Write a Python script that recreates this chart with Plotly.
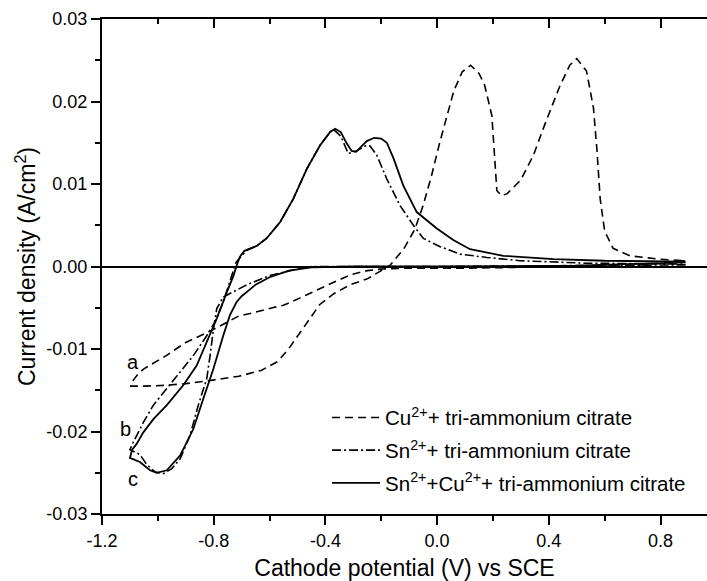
import plotly.graph_objects as go

# ---- data ----
cu_v = [-1.10, -1.05, -0.97, -0.90, -0.81, -0.71, -0.63, -0.57, -0.53, -0.49, -0.45, -0.42,
        -0.37, -0.31, -0.25, -0.20, -0.17, -0.12, -0.08, -0.05, -0.02, 0.01, 0.04, 0.06, 0.09,
        0.12, 0.15, 0.17, 0.196, 0.208, 0.214, 0.23, 0.25, 0.30, 0.345, 0.39, 0.44, 0.475, 0.50,
        0.535, 0.56, 0.572, 0.584, 0.60, 0.63, 0.69, 0.79, 0.89,
        0.70, 0.50, 0.30, 0.10, -0.10, -0.20, -0.25, -0.31, -0.37, -0.43, -0.49, -0.55, -0.59,
        -0.67, -0.71, -0.81, -0.90, -0.97, -1.05, -1.07, -1.10]
cu_j = [-0.0145, -0.0145, -0.0144, -0.0142, -0.0138, -0.0133, -0.0126, -0.0115, -0.0099, -0.0080,
        -0.0060, -0.0046, -0.0033, -0.0022, -0.0015, -0.0005, 0.0001, 0.0021, 0.0045, 0.0074,
        0.0110, 0.0151, 0.0190, 0.0213, 0.0236, 0.0244, 0.0234, 0.0220, 0.0183, 0.0122, 0.0092,
        0.0086, 0.0088, 0.0105, 0.0135, 0.0176, 0.0219, 0.0244, 0.0252, 0.0237, 0.0192, 0.0143,
        0.0082, 0.0043, 0.0022, 0.0013, 0.0009, 0.0007,
        0.0001, 0.0000, -0.0001, -0.0002, -0.0002, -0.0003, -0.0005, -0.0010, -0.0019, -0.0029,
        -0.0038, -0.0047, -0.0050, -0.0057, -0.0060, -0.0078, -0.0092, -0.0108, -0.0124, -0.0130,
        -0.0143]

sn_v = [0.89, 0.50, 0.00, -0.30, -0.45, -0.50, -0.60, -0.68, -0.73, -0.766, -0.789, -0.801,
        -0.813, -0.825, -0.855, -0.885, -0.92, -0.95, -0.98, -1.01, -1.04, -1.064, -1.10,
        -1.094, -1.088, -1.052, -1.016, -0.968, -0.920, -0.873, -0.825, -0.795, -0.766, -0.74,
        -0.72, -0.70, -0.68, -0.646, -0.611, -0.562, -0.515, -0.467, -0.419, -0.383, -0.37,
        -0.345, -0.318, -0.29, -0.252, -0.24, -0.216, -0.18, -0.133, -0.085, -0.049, 0.011,
        0.082, 0.178, 0.297, 0.536, 0.89]
sn_j = [0.0002, 0.0001, 0.0000, 0.0000, 0.0000, -0.0003, -0.0011, -0.0022, -0.0031, -0.0037,
        -0.0051, -0.0076, -0.0108, -0.0136, -0.0168, -0.0205, -0.0233, -0.0245, -0.0251, -0.0249,
        -0.0240, -0.0228, -0.0222,
        -0.0217, -0.0213, -0.0189, -0.0168, -0.0148, -0.0128, -0.0108, -0.0084, -0.0067, -0.0043,
        -0.0015, 0.0005, 0.0013, 0.0020, 0.0025, 0.0034, 0.0054, 0.0082, 0.0118, 0.0147, 0.0163,
        0.0166, 0.0158, 0.0137, 0.0140, 0.0147, 0.0146, 0.0135, 0.0106, 0.0074, 0.0050, 0.0034,
        0.0024, 0.0015, 0.0011, 0.0007, 0.0004, 0.0003]

sc_v = [0.89, 0.50, 0.00, -0.30, -0.45, -0.50, -0.53, -0.60, -0.65, -0.682, -0.70, -0.718,
        -0.742, -0.766, -0.801, -0.837, -0.873, -0.92, -0.968, -1.004, -1.028, -1.064, -1.10,
        -1.092, -1.076, -1.052, -1.016, -0.968, -0.909, -0.861, -0.825, -0.789, -0.753, -0.73,
        -0.715, -0.706, -0.69, -0.67, -0.646, -0.611, -0.562, -0.515, -0.467, -0.419, -0.383,
        -0.365, -0.345, -0.325, -0.306, -0.29, -0.27, -0.252, -0.225, -0.20, -0.18, -0.156,
        -0.121, -0.073, -0.001, 0.058, 0.118, 0.237, 0.417, 0.60, 0.89]
sc_j = [0.0005, 0.0001, 0.0000, 0.0000, -0.0001, -0.0003, -0.0005, -0.0013, -0.0022, -0.0031,
        -0.0036, -0.0043, -0.0059, -0.0084, -0.0124, -0.0160, -0.0197, -0.0229, -0.0247, -0.0250,
        -0.0247, -0.0237, -0.0232,
        -0.0222, -0.0215, -0.0201, -0.0185, -0.0168, -0.0144, -0.0120, -0.0092, -0.0063, -0.0031,
        -0.0012, 0.0004, 0.0012, 0.0019, 0.0022, 0.0025, 0.0034, 0.0054, 0.0082, 0.0118, 0.0147,
        0.0163, 0.0167, 0.0163, 0.0150, 0.0140, 0.0139, 0.0146, 0.0152, 0.0156, 0.0155, 0.0150,
        0.0131, 0.0098, 0.0066, 0.0046, 0.0032, 0.0021, 0.0013, 0.0009, 0.0007, 0.0006]

series_names = ["Cu<sup>2+</sup>+ tri-ammonium citrate",
                "Sn<sup>2+</sup>+ tri-ammonium citrate",
                "Sn<sup>2+</sup>+Cu<sup>2+</sup>+ tri-ammonium citrate"]

x_tickvals = [-1.2, -0.8, -0.4, 0.0, 0.4, 0.8]
x_ticktext = ["-1.2", "-0.8", "-0.4", "0.0", "0.4", "0.8"]
y_tickvals = [-0.03, -0.02, -0.01, 0.00, 0.01, 0.02, 0.03]
y_ticktext = ["-0.03", "-0.02", "-0.01", "0.00", "0.01", "0.02", "0.03"]

curve_labels = ["a", "b", "c"]
label_x = [-1.088, -1.117, -1.088]
label_y = [-0.0116, -0.0197, -0.0257]

X_RANGE = [-1.2, 0.9665]
Y_RANGE = [-0.03, 0.03]
FONT = "Liberation Sans, Arial, sans-serif"

fig = go.Figure()
fig.add_trace(go.Scatter(x=cu_v, y=cu_j, mode="lines", name=series_names[0], legendgroup="a",
                         line=dict(color="black", width=1.6, dash="8px,5px")))
fig.add_trace(go.Scatter(x=sn_v, y=sn_j, mode="lines", name=series_names[1], legendgroup="b",
                         line=dict(color="black", width=1.6, dash="9px,3px,2px,3px")))
fig.add_trace(go.Scatter(x=sc_v, y=sc_j, mode="lines", name=series_names[2], legendgroup="c",
                         line=dict(color="black", width=1.8)))
# invisible trace to carry the mirrored top axis
fig.add_trace(go.Scatter(x=cu_v, y=cu_j, xaxis="x2", mode="lines", showlegend=False,
                         hoverinfo="skip", line=dict(width=0, color="rgba(0,0,0,0)")))

for t, xv, yv in zip(curve_labels, label_x, label_y):
    fig.add_annotation(x=xv, y=yv, text=t, showarrow=False, xref="x", yref="y",
                       font=dict(family=FONT, size=20, color="black"))

axis_common = dict(showline=True, linecolor="black", linewidth=2, showgrid=False,
                   ticks="outside", ticklen=9, tickwidth=2, tickcolor="black",
                   tickfont=dict(family=FONT, size=18, color="black"))

fig.update_layout(
    width=707, height=581,
    margin=dict(l=102, r=0, t=19, b=67),
    paper_bgcolor="white", plot_bgcolor="white",
    font=dict(family=FONT, color="black"),
    xaxis=dict(range=X_RANGE, tickvals=x_tickvals, ticktext=x_ticktext, zeroline=False,
               minor=dict(dtick=0.2, tick0=-1.2, ticks="outside", ticklen=5, tickwidth=2,
                          tickcolor="black"),
               title=dict(text="Cathode potential (V) vs SCE", standoff=10,
                          font=dict(family=FONT, size=23, color="black")),
               **axis_common),
    xaxis2=dict(range=X_RANGE, overlaying="x", side="top", anchor="y", showticklabels=False,
                showline=True, linecolor="black", linewidth=2, showgrid=False, zeroline=False,
                tickvals=x_tickvals, ticks="inside", ticklen=9, tickwidth=2, tickcolor="black",
                minor=dict(dtick=0.2, tick0=-1.2, ticks="inside", ticklen=5, tickwidth=2,
                           tickcolor="black")),
    yaxis=dict(range=Y_RANGE, tickvals=y_tickvals, ticktext=y_ticktext,
               zeroline=True, zerolinecolor="black", zerolinewidth=1.8,
               minor=dict(dtick=0.005, tick0=-0.03, ticks="outside", ticklen=5, tickwidth=2,
                          tickcolor="black"),
               title=dict(text="Current density (A/cm<sup>2</sup>)", standoff=4,
                          font=dict(family=FONT, size=23, color="black")),
               **axis_common),
    legend=dict(x=0.372, y=0.235, xanchor="left", yanchor="top", bgcolor="rgba(0,0,0,0)",
                font=dict(family=FONT, size=20.5, color="black"), itemwidth=48,
                tracegroupgap=3),
    showlegend=True,
)

fig.write_html("out.html")
